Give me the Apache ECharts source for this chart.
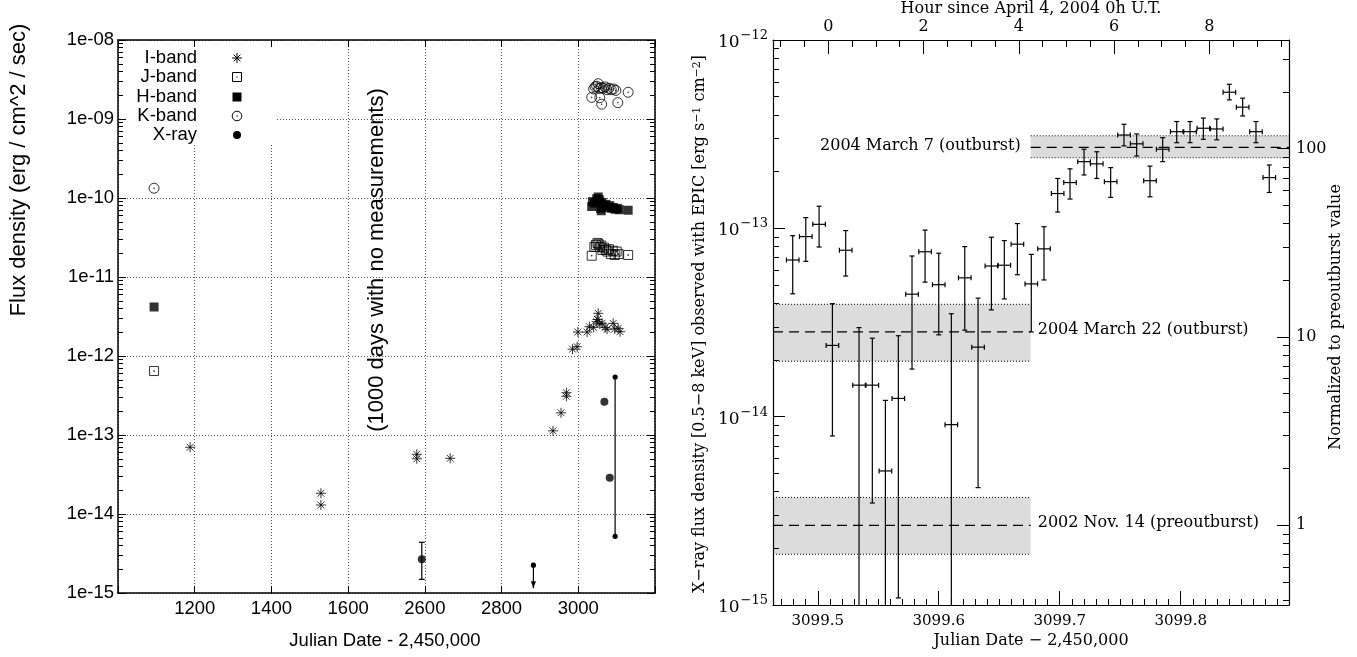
<!DOCTYPE html>
<html><head><meta charset="utf-8">
<script src="https://cdn.jsdelivr.net/npm/echarts@6/dist/echarts.min.js"></script>
<style>html,body{margin:0;padding:0;background:#fff}#c{width:1357px;height:657px}</style>
</head><body><div id="c"></div>
<script>
// ================= LEFT PANEL DATA (Julian Date - 2,450,000 ; flux erg/cm^2/s) =================
const iBandJD   = [1188, 1529, 1529, 2579, 2579, 2666, 2934, 2955, 2969, 2969, 2985, 2997, 2999, 3023, 3029, 3040, 3048, 3050, 3052, 3056, 3062, 3070, 3075, 3091, 3095, 3104, 3109];
const iBandFlux = [7.0e-14, 1.83e-14, 1.30e-14, 5.7e-14, 5.0e-14, 5.07e-14, 1.13e-13, 1.91e-13, 3.43e-13, 3.09e-13, 1.22e-12, 1.31e-12, 2.01e-12, 2.01e-12, 2.35e-12, 2.3e-12, 2.72e-12, 2.9e-12, 3.47e-12, 2.54e-12, 2.6e-12, 2.3e-12, 2.18e-12, 2.59e-12, 2.2e-12, 2.24e-12, 2.03e-12];

const jBandJD   = [1094, 3035, 3042, 3046, 3050, 3053, 3056, 3060, 3063, 3067, 3072, 3076, 3080, 3085, 3090, 3095, 3100, 3105, 3130];
const jBandFlux = [6.45e-13, 1.86e-11, 2.4e-11, 2.55e-11, 2.7e-11, 2.6e-11, 2.4e-11, 2.5e-11, 2.2e-11, 2.35e-11, 2.2e-11, 2.1e-11, 2.25e-11, 1.95e-11, 2.15e-11, 1.9e-11, 2.1e-11, 1.95e-11, 1.9e-11];

const hBandJD   = [1094, 3035, 3037, 3042, 3048, 3052, 3055, 3058, 3060, 3062, 3066, 3072, 3077, 3082, 3086, 3091, 3096, 3102, 3107, 3130];
const hBandFlux = [4.17e-12, 7.8e-11, 9.0e-11, 8.6e-11, 9.8e-11, 1.03e-10, 9.5e-11, 7.4e-11, 6.9e-11, 8.8e-11, 8.0e-11, 8.3e-11, 7.6e-11, 8.0e-11, 7.4e-11, 7.6e-11, 7.2e-11, 7.4e-11, 7.1e-11, 7.0e-11];

const kBandJD   = [1094, 3035, 3040, 3044, 3048, 3052, 3054, 3056, 3060, 3061, 3065, 3070, 3075, 3080, 3086, 3092, 3098, 3103, 3130];
const kBandFlux = [1.33e-10, 1.88e-9, 2.4e-9, 2.55e-9, 2.6e-9, 2.8e-9, 2.45e-9, 1.86e-9, 2.5e-9, 1.54e-9, 2.45e-9, 2.55e-9, 2.35e-9, 2.45e-9, 2.35e-9, 2.4e-9, 2.3e-9, 1.61e-9, 2.18e-9];

const xrayJD    = [2592, 3068, 3082];
const xrayFlux  = [2.67e-15, 2.64e-13, 2.88e-14];
const xrayErrJD = [2592];
const xrayErrLo = [1.49e-15];
const xrayErrHi = [4.38e-15];
const xrayUlJD   = [2883];
const xrayUlFlux = [2.25e-15];
const xrayUlTip  = [1.15e-15];
const xrayRangeJD = [3096];
const xrayRangeLo = [5.22e-15];
const xrayRangeHi = [5.42e-13];

const leftYTicks = [1e-15, 1e-14, 1e-13, 1e-12, 1e-11, 1e-10, 1e-9, 1e-8];
const legendNames = ['I-band', 'J-band', 'H-band', 'K-band', 'X-ray'];

// broken axis: 1000 days without measurements are removed
const breakJD = 1700, breakShift = 800;
function toU(jd) { return jd <= breakJD ? jd : jd - breakShift; }
function fromU(u) { return u <= 1600 ? u : u + breakShift; }

// ================= RIGHT PANEL DATA (EPIC 0.5-8 keV) =================
const epicJD = [3099.4793, 3099.4901, 3099.5011, 3099.5121, 3099.5231, 3099.5341, 3099.5451, 3099.5559, 3099.5666, 3099.5779,
  3099.5887, 3099.6000, 3099.6104, 3099.6215, 3099.6325, 3099.6435, 3099.6542, 3099.6650, 3099.6765, 3099.6870,
  3099.6983, 3099.7085, 3099.7201, 3099.7306, 3099.7421, 3099.7531, 3099.7636, 3099.7746, 3099.7851, 3099.7967,
  3099.8077, 3099.8187, 3099.8298, 3099.8402, 3099.8512, 3099.8622, 3099.8732];
const epicFlux = [6.79e-14, 9.04e-14, 1.05e-13, 2.39e-14, 7.65e-14, 1.47e-14, 1.47e-14, 5.15e-15, 1.25e-14, 4.47e-14,
  7.51e-14, 5.02e-14, 9.07e-15, 5.46e-14, 2.34e-14, 6.31e-14, 6.37e-14, 8.24e-14, 5.07e-14, 7.78e-14,
  1.53e-13, 1.75e-13, 2.26e-13, 2.20e-13, 1.77e-13, 3.13e-13, 2.81e-13, 1.79e-13, 2.63e-13, 3.26e-13,
  3.26e-13, 3.40e-13, 3.37e-13, 5.28e-13, 4.40e-13, 3.26e-13, 1.86e-13];
const epicLo = [4.49e-14, 6.68e-14, 7.96e-14, 7.90e-15, 5.58e-14, 0, 3.48e-15, 0, 1.09e-15, 1.79e-14,
  5.18e-14, 2.72e-14, 0, 2.88e-14, 4.20e-15, 3.69e-14, 4.22e-14, 5.67e-14, 2.82e-14, 5.32e-14,
  1.22e-13, 1.43e-13, 1.92e-13, 1.84e-13, 1.46e-13, 2.74e-13, 2.42e-13, 1.47e-13, 2.26e-13, 2.85e-13,
  2.85e-13, 2.97e-13, 2.95e-13, 4.81e-13, 3.95e-13, 2.85e-13, 1.55e-13];
const epicHi = [9.14e-14, 1.14e-13, 1.31e-13, 3.98e-14, 9.73e-14, 2.97e-14, 2.61e-14, 1.22e-14, 2.69e-14, 7.13e-14,
  9.79e-14, 7.38e-14, 3.52e-14, 8.0e-14, 4.26e-14, 8.97e-14, 8.61e-14, 1.06e-13, 7.27e-14, 1.02e-13,
  1.84e-13, 2.07e-13, 2.63e-13, 2.55e-13, 2.10e-13, 3.57e-13, 3.17e-13, 2.14e-13, 3.03e-13, 3.69e-13,
  3.69e-13, 3.85e-13, 3.81e-13, 5.82e-13, 4.91e-13, 3.69e-13, 2.17e-13];
const epicHalfBin = 0.0052;

const bandLabels = ['2004 March 7 (outburst)', '2004 March 22 (outburst)', '2002 Nov. 14 (preoutburst)'];
const bandLabelSide = ['left', 'right', 'right'];
const bandStart = [3099.676, 3099.463, 3099.463];
const bandEnd   = [3099.8895, 3099.676, 3099.676];
const bandLo  = [2.37e-13, 1.97e-14, 1.86e-15];
const bandMid = [2.69e-13, 2.82e-14, 2.65e-15];
const bandHi  = [3.10e-13, 3.95e-14, 3.72e-15];

const rxMin = 3099.463, rxMax = 3099.8895;
const hourMin = -1.161, hourMax = 9.672;   // top axis range as drawn in the figure
const ryMin = 1e-15, ryMax = 1e-12;
const jdTicks = [3099.5, 3099.6, 3099.7, 3099.8];
const hourTicks = [0, 2, 4, 6, 8];
const rightYTicks = [1e-15, 1e-14, 1e-13, 1e-12];
const normTicks = [1, 10, 100];
const preoutburst = bandMid[2];

// ================= helpers =================
const FL = '"Liberation Sans", Arial, sans-serif';
const FR = '"DejaVu Serif", serif';
function logMinors(lo, hi) {
  const out = [];
  for (let e = Math.floor(Math.log10(lo)) - 1; e <= Math.ceil(Math.log10(hi)); e++)
    for (let k = 2; k <= 9; k++) { const v = k * Math.pow(10, e); if (v > lo * 1.0001 && v < hi * 0.9999) out.push(v); }
  return out;
}
function steps(a, b, st) { const out = []; const n = Math.round((b - a) / st); for (let i = 0; i <= n; i++) out.push(+(a + i * st).toFixed(6)); return out; }

const blk = {color: '#000', width: 1};
function tickAxis(base, o) { return Object.assign({type: 'value', z: 5, axisLine: {show: false, onZero: false}, axisLabel: {show: false}, splitLine: {show: false}}, base, o); }

const astPath = 'path://M5,0 L5,10 M0,5 L10,5 M1.6,1.6 L8.4,8.4 M1.6,8.4 L8.4,1.6';
const sqDotPath = 'path://M0,0 L10,0 L10,10 L0,10 Z M4.6,4.6 L5.4,4.6 L5.4,5.4 L4.6,5.4 Z';
const cirDotPath = 'path://M10,5 A5,5 0 1 1 0,5 A5,5 0 1 1 10,5 Z M5.4,5 A0.4,0.4 0 1 1 4.6,5 A0.4,0.4 0 1 1 5.4,5 Z';
const strokeOnly = {color: 'rgba(0,0,0,0)', borderColor: '#000', borderWidth: 1};

const xAxes = [
  {gridIndex: 0, type: 'value', position: 'bottom', min: 1000, max: 2400, interval: 200, z: 0,
   axisLine: {show: true, onZero: false, lineStyle: {color: '#000', width: 1.5}},
   axisTick: {show: true, inside: true, length: 7, lineStyle: blk},
   axisLabel: {show: true, margin: 6, color: '#000', fontFamily: FL, fontSize: 18.5,
     formatter: v => (v <= 1000 || v >= 2400) ? '' : String(fromU(v))},
   splitLine: {show: true, lineStyle: {type: [1, 2], color: '#555', width: 1}}},
  tickAxis({gridIndex: 0, position: 'top', min: 1000, max: 2400, interval: 200},
    {axisLine: {show: true, onZero: false, lineStyle: {color: '#000', width: 1.5}}, axisTick: {show: true, inside: true, length: 7, lineStyle: blk}}),
  tickAxis({gridIndex: 1, position: 'bottom', min: rxMin, max: rxMax},
    {axisLine: {show: true, onZero: false, lineStyle: {color: '#000', width: 1.2}},
     axisTick: {show: true, inside: true, length: 14, customValues: jdTicks, lineStyle: blk},
     axisLabel: {show: true, margin: 9, color: '#000', fontFamily: FR, fontSize: 15, customValues: jdTicks, formatter: v => v.toFixed(1)}}),
  tickAxis({gridIndex: 1, position: 'bottom', min: rxMin, max: rxMax},
    {axisTick: {show: true, inside: true, length: 6, customValues: steps(3099.47, 3099.88, 0.01), lineStyle: blk}}),
  tickAxis({gridIndex: 1, position: 'top', min: hourMin, max: hourMax},
    {axisLine: {show: true, onZero: false, lineStyle: {color: '#000', width: 1.2}},
     axisTick: {show: true, inside: true, length: 14, customValues: hourTicks, lineStyle: blk},
     axisLabel: {show: true, margin: 5, color: '#000', fontFamily: FR, fontSize: 16, customValues: hourTicks}}),
  tickAxis({gridIndex: 1, position: 'top', min: hourMin, max: hourMax},
    {axisTick: {show: true, inside: true, length: 7, customValues: steps(-1, 9.5, 0.5), lineStyle: blk}})
];

const yAxes = [
  {gridIndex: 0, type: 'log', logBase: 10, position: 'left', min: 1e-15, max: 1e-8, splitNumber: 7, z: 0,
   axisLine: {show: true, onZero: false, lineStyle: {color: '#000', width: 1.5}},
   axisTick: {show: false, customValues: leftYTicks},
   axisLabel: {show: true, margin: 4, color: '#000', fontFamily: FL, fontSize: 18.5, customValues: leftYTicks,
     formatter: v => '1e-' + String(-Math.round(Math.log10(v))).padStart(2, '0')},
   splitLine: {show: true, lineStyle: {type: [1, 2], color: '#555', width: 1}}},
  tickAxis({gridIndex: 0, type: 'log', position: 'left', min: 1e-15, max: 1e-8},
    {type: 'log', axisTick: {show: true, inside: true, length: 8, customValues: leftYTicks, lineStyle: blk}}),
  tickAxis({gridIndex: 0, type: 'log', position: 'left', min: 1e-15, max: 1e-8},
    {type: 'log', axisTick: {show: true, inside: true, length: 5, customValues: logMinors(1e-15, 1e-8), lineStyle: blk}}),
  tickAxis({gridIndex: 0, type: 'log', position: 'right', min: 1e-15, max: 1e-8},
    {type: 'log', axisLine: {show: true, onZero: false, lineStyle: {color: '#000', width: 1.5}},
     axisTick: {show: true, inside: true, length: 8, customValues: leftYTicks, lineStyle: blk}}),
  tickAxis({gridIndex: 0, type: 'log', position: 'right', min: 1e-15, max: 1e-8},
    {type: 'log', axisTick: {show: true, inside: true, length: 5, customValues: logMinors(1e-15, 1e-8), lineStyle: blk}}),
  tickAxis({gridIndex: 1, type: 'log', position: 'left', min: ryMin, max: ryMax},
    {type: 'log', axisLine: {show: true, onZero: false, lineStyle: {color: '#000', width: 1.2}},
     axisTick: {show: true, inside: true, length: 12, customValues: rightYTicks, lineStyle: blk},
     axisLabel: {show: true, margin: 5, color: '#000', customValues: rightYTicks,
       formatter: v => '{b|10}{e|\u2212' + String(-Math.round(Math.log10(v))) + '}',
       rich: {b: {fontFamily: FR, fontSize: 17, lineHeight: 22, verticalAlign: 'bottom', padding: [0, 1, 0, 0]},
              e: {fontFamily: FR, fontSize: 13, lineHeight: 14, verticalAlign: 'top'}}}}),
  tickAxis({gridIndex: 1, type: 'log', position: 'left', min: ryMin, max: ryMax},
    {type: 'log', axisTick: {show: true, inside: true, length: 6, customValues: logMinors(ryMin, ryMax), lineStyle: blk}}),
  tickAxis({gridIndex: 1, type: 'log', position: 'right', min: ryMin / preoutburst, max: ryMax / preoutburst},
    {type: 'log', axisLine: {show: true, onZero: false, lineStyle: {color: '#000', width: 1.2}},
     axisTick: {show: true, inside: true, length: 12, customValues: normTicks, lineStyle: blk},
     axisLabel: {show: true, margin: 7, color: '#000', fontFamily: FR, fontSize: 16, customValues: normTicks, formatter: v => String(Math.round(v))}}),
  tickAxis({gridIndex: 1, type: 'log', position: 'right', min: ryMin / preoutburst, max: ryMax / preoutburst},
    {type: 'log', axisTick: {show: true, inside: true, length: 6, customValues: logMinors(ryMin / preoutburst, ryMax / preoutburst), lineStyle: blk}})
];

function pts(jd, fl) { return jd.map((j, i) => [toU(j), fl[i]]); }
const ln = (x1, y1, x2, y2, extra) => ({type: 'line', shape: {x1, y1, x2, y2}, style: Object.assign({stroke: '#000', lineWidth: 1.2}, extra || {})});

const series = [
  {name: 'I-band', type: 'scatter', xAxisIndex: 0, yAxisIndex: 0, symbol: astPath, symbolSize: 10, itemStyle: strokeOnly, data: pts(iBandJD, iBandFlux), z: 2},
  {name: 'J-band', type: 'scatter', xAxisIndex: 0, yAxisIndex: 0, symbol: sqDotPath, symbolSize: 9, itemStyle: strokeOnly, data: pts(jBandJD, jBandFlux), z: 2},
  {name: 'H-band', type: 'scatter', xAxisIndex: 0, yAxisIndex: 0, symbol: 'rect', symbolSize: 9, itemStyle: {color: '#000'}, data: pts(hBandJD, hBandFlux), z: 2},
  {name: 'K-band', type: 'scatter', xAxisIndex: 0, yAxisIndex: 0, symbol: cirDotPath, symbolSize: 10, itemStyle: strokeOnly, data: pts(kBandJD, kBandFlux), z: 2},
  {name: 'X-ray', type: 'scatter', xAxisIndex: 0, yAxisIndex: 0, symbol: 'circle', symbolSize: 8, itemStyle: {color: '#000'}, data: pts(xrayJD, xrayFlux), z: 2},
  {type: 'custom', xAxisIndex: 0, yAxisIndex: 0, z: 2, silent: true,
   data: xrayErrJD.map((j, i) => [toU(j), xrayErrLo[i], xrayErrHi[i]]),
   renderItem: (p, api) => {
     const a = api.coord([api.value(0), api.value(1)]), b = api.coord([api.value(0), api.value(2)]);
     return {type: 'group', children: [ln(a[0], a[1], b[0], b[1]), ln(a[0] - 3, a[1], a[0] + 3, a[1]), ln(b[0] - 3, b[1], b[0] + 3, b[1])]};
   }},
  {type: 'custom', xAxisIndex: 0, yAxisIndex: 0, z: 2, silent: true,
   data: xrayUlJD.map((j, i) => [toU(j), xrayUlFlux[i], xrayUlTip[i]]),
   renderItem: (p, api) => {
     const a = api.coord([api.value(0), api.value(1)]), b = api.coord([api.value(0), api.value(2)]);
     return {type: 'group', children: [
       {type: 'circle', shape: {cx: a[0], cy: a[1], r: 2.6}, style: {fill: '#000'}},
       ln(a[0], a[1], b[0], b[1]),
       {type: 'polygon', shape: {points: [[b[0] - 2.5, b[1] - 7], [b[0] + 2.5, b[1] - 7], [b[0], b[1]]]}, style: {fill: '#000'}}]};
   }},
  {type: 'custom', xAxisIndex: 0, yAxisIndex: 0, z: 2, silent: true,
   data: xrayRangeJD.map((j, i) => [toU(j), xrayRangeLo[i], xrayRangeHi[i]]),
   renderItem: (p, api) => {
     const a = api.coord([api.value(0), api.value(1)]), b = api.coord([api.value(0), api.value(2)]);
     return {type: 'group', children: [ln(a[0], a[1], b[0], b[1]),
       {type: 'circle', shape: {cx: a[0], cy: a[1], r: 2.6}, style: {fill: '#000'}},
       {type: 'circle', shape: {cx: b[0], cy: b[1], r: 2.6}, style: {fill: '#000'}}]};
   }},
  {type: 'custom', xAxisIndex: 2, yAxisIndex: 5, z: 1, silent: true,
   encode: {x: [0, 1], y: [2, 3, 4]},
   data: bandLabels.map((t, i) => [bandStart[i], bandEnd[i], bandLo[i], bandMid[i], bandHi[i]]),
   renderItem: (p, api) => {
     const i = p.dataIndex;
     const A = api.coord([api.value(0), api.value(4)]), B = api.coord([api.value(1), api.value(2)]);
     const M = api.coord([api.value(0), api.value(3)])[1];
     const dot = {lineDash: [1, 2], lineWidth: 1};
     const lx = bandLabelSide[i] === 'left' ? A[0] - 10 : B[0] + 7;
     return {type: 'group', children: [
       {type: 'rect', shape: {x: A[0], y: A[1], width: B[0] - A[0], height: B[1] - A[1]}, style: {fill: '#dcdcdc'}},
       ln(A[0], A[1], B[0], A[1], dot), ln(A[0], B[1], B[0], B[1], dot),
       ln(A[0], M, B[0], M, {lineDash: [10, 6], lineWidth: 1.2}),
       {type: 'text', x: lx, y: M - 2, style: {text: bandLabels[i], fill: '#000', font: '16px ' + FR,
         align: bandLabelSide[i] === 'left' ? 'right' : 'left', verticalAlign: 'middle'}}]};
   }},
  {type: 'custom', xAxisIndex: 2, yAxisIndex: 5, z: 3, silent: true,
   data: epicJD.map((j, i) => [j, epicFlux[i], epicLo[i], epicHi[i]]),
   renderItem: (p, api) => {
     const x = api.value(0), y = api.value(1), lo = api.value(2), hi = api.value(3);
     const c = api.coord([x, y]);
     const L = api.coord([x - epicHalfBin, y])[0], R = api.coord([x + epicHalfBin, y])[0];
     const clamped = !(lo > ryMin);
     const yl = api.coord([x, clamped ? ryMin : lo])[1], yh = api.coord([x, hi])[1];
     const cap = 2.5;
     const ch = [ln(L, c[1], R, c[1]), ln(c[0], yh, c[0], yl),
       ln(L, c[1] - cap, L, c[1] + cap), ln(R, c[1] - cap, R, c[1] + cap), ln(c[0] - cap, yh, c[0] + cap, yh)];
     if (!clamped) ch.push(ln(c[0] - cap, yl, c[0] + cap, yl));
     return {type: 'group', children: ch};
   }}
];

// legend (gnuplot key) drawn as graphics
const keyY = [58, 77, 97, 116, 135], keyTextX = 197, keyIconX = 237;
const ZK = 6;
const gl = (x1, y1, x2, y2) => ({type: 'line', z: ZK, shape: {x1, y1, x2, y2}, style: {stroke: '#000', lineWidth: 1}});
const keyIcons = [
  [gl(0, -5, 0, 5), gl(-5, 0, 5, 0), gl(-3.4, -3.4, 3.4, 3.4), gl(-3.4, 3.4, 3.4, -3.4)],
  [{type: 'rect', z: ZK, shape: {x: -4.5, y: -4.5, width: 9, height: 9}, style: {stroke: '#000', fill: 'rgba(0,0,0,0)', lineWidth: 1}},
   {type: 'rect', z: ZK, shape: {x: -0.6, y: -0.6, width: 1.2, height: 1.2}, style: {fill: '#000'}}],
  [{type: 'rect', z: ZK, shape: {x: -4.5, y: -4.5, width: 9, height: 9}, style: {fill: '#000'}}],
  [{type: 'circle', z: ZK, shape: {cx: 0, cy: 0, r: 4.8}, style: {stroke: '#000', fill: 'rgba(0,0,0,0)', lineWidth: 1}},
   {type: 'circle', z: ZK, shape: {cx: 0, cy: 0, r: 0.7}, style: {fill: '#000'}}],
  [{type: 'circle', z: ZK, shape: {cx: 0, cy: 0, r: 4}, style: {fill: '#000'}}]
];
const graphics = [
  {type: 'rect', z: 1, silent: true, shape: {x: 119, y: 41, width: 157, height: 104}, style: {fill: '#fff'}}
];
legendNames.forEach((n, i) => {
  graphics.push({type: 'text', z: ZK, x: keyTextX, y: keyY[i], style: {text: n, fill: '#000', font: '18.5px ' + FL, align: 'right', verticalAlign: 'middle'}});
  graphics.push({type: 'group', z: ZK, x: keyIconX, y: keyY[i], children: keyIcons[i]});
});
graphics.push(
  {type: 'text', z: 6, x: 19, y: 170, rotation: Math.PI / 2, style: {text: 'Flux density (erg / cm^2 / sec)', fill: '#000', font: '22px ' + FL, align: 'center', verticalAlign: 'middle'}},
  {type: 'text', z: 6, x: 385, y: 641, style: {text: 'Julian Date - 2,450,000', fill: '#000', font: '18.5px ' + FL, align: 'center', verticalAlign: 'middle'}},
  {type: 'text', z: 6, x: 377, y: 260, rotation: Math.PI / 2, style: {text: '(1000 days with no measurements)', fill: '#000', font: '22px ' + FL, align: 'center', verticalAlign: 'middle'}},
  {type: 'text', z: 6, x: 1031, y: 9, style: {text: 'Hour since April 4, 2004 0h U.T.', fill: '#000', font: '16px ' + FR, align: 'center', verticalAlign: 'middle'}},
  {type: 'text', z: 6, x: 1031, y: 641, style: {text: 'Julian Date \u2212 2,450,000', fill: '#000', font: '16px ' + FR, align: 'center', verticalAlign: 'middle'}},
  {type: 'text', z: 6, x: 700, y: 324, rotation: Math.PI / 2, style: {
    text: 'X\u2212ray flux density [0.5\u22128 keV] observed with EPIC [erg s{s|\u22121} cm{s|\u22122}]',
    fill: '#000', font: '16px ' + FR, align: 'center', verticalAlign: 'middle',
    rich: {s: {fontFamily: FR, fontSize: 11, verticalAlign: 'top', lineHeight: 12}}}},
  {type: 'text', z: 6, x: 1336, y: 317, rotation: Math.PI / 2, style: {text: 'Normalized to preoutburst value', fill: '#000', font: '16px ' + FR, align: 'center', verticalAlign: 'middle'}}
);

const chart = echarts.init(document.getElementById('c'));
chart.setOption({
  animation: false,
  backgroundColor: '#fff',
  grid: [
    {left: 118, top: 40, width: 537, height: 553, containLabel: false, outerBoundsMode: 'none'},
    {left: 773, top: 40, width: 516, height: 565, containLabel: false, outerBoundsMode: 'none'}
  ],
  xAxis: xAxes,
  yAxis: yAxes,
  series: series,
  graphic: graphics
});
</script>
</body></html>
